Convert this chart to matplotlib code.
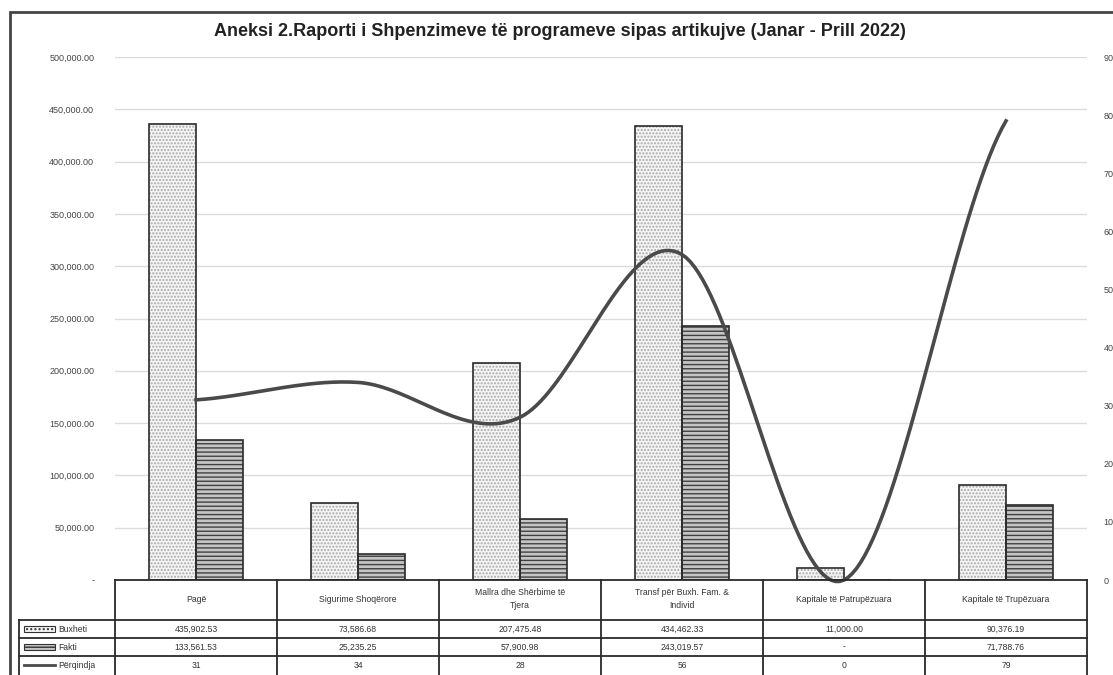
import matplotlib
matplotlib.use('Agg')

import matplotlib.pyplot as plt
import numpy as np
from matplotlib.patches import Rectangle
from matplotlib.lines import Line2D

# te dhenat e raportit
kategorite = ["Pagë", "Sigurime Shoqërore", "Mallra dhe Shërbime të\nTjera",
              "Transf për Buxh. Fam. &\nIndivid", "Kapitale të Patrupëzuara",
              "Kapitale të Trupëzuara"]
buxheti = [435902.53, 73586.68, 207475.48, 434462.33, 11000.00, 90376.19]
fakti = [133561.53, 25235.25, 57900.98, 243019.57, 0.0, 71788.76]
perqindja = [31, 34, 28, 56, 0, 79]

W, H = 1113, 675
fig = plt.figure(figsize=(W / 100, H / 100), dpi=100)
plt.rcParams['font.family'] = ['Liberation Sans', 'DejaVu Sans']

ax = fig.add_axes([115 / W, 95 / H, 972 / W, 523 / H])
n = len(kategorite)
x = np.arange(n)
w = 0.29

# shtyllat: buxheti (pika) dhe fakti (vija horizontale)
ax.bar(x - w / 2, buxheti, w, color='#f5f5f5', hatch='.....', edgecolor='#a8a8a8', lw=0, zorder=2)
ax.bar(x - w / 2, buxheti, w, fill=False, edgecolor='#2a2a2a', lw=1.2, zorder=3)
ax.bar(x + w / 2, fakti, w, color='#c4c4c4', hatch='----', edgecolor='#404040', lw=0, zorder=2)
ax.bar(x + w / 2, fakti, w, fill=False, edgecolor='#2a2a2a', lw=1.2, zorder=3)

ax.set_xlim(-0.5, n - 0.5)
ax.set_ylim(0, 500000)
ax.set_yticks(np.arange(0, 500001, 50000))
ax.set_yticklabels(['-'] + [f"{v:,.2f}" for v in range(50000, 500001, 50000)])
ax.tick_params(axis='y', length=0, pad=15, labelsize=6.5, labelcolor='#444')
ax.set_xticks([])
ax.grid(axis='y', color='#dcdcdc', lw=1, zorder=0)
for s in ax.spines.values():
    s.set_visible(False)

# linja e perqindjes (e lemuar si ne Excel)
ax2 = ax.twinx()
ax2.set_ylim(0, 90)
ax2.set_yticks(np.arange(0, 91, 10))
ax2.tick_params(axis='y', length=0, pad=12, labelsize=6.5, labelcolor='#444')
for s in ax2.spines.values():
    s.set_visible(False)

p = np.array(perqindja, dtype=float)
k = 0.2
xs, ys = [], []
for i in range(n - 1):
    p0 = p[i - 1] if i > 0 else p[i]
    p3 = p[i + 2] if i + 2 < n else p[i + 1]
    c1 = p[i] + (p[i + 1] - p0) * k
    c2 = p[i + 1] - (p3 - p[i]) * k
    t = np.linspace(0, 1, 40)
    xs.extend(i + t)
    ys.extend((1 - t) ** 3 * p[i] + 3 * (1 - t) ** 2 * t * c1 + 3 * (1 - t) * t ** 2 * c2 + t ** 3 * p[i + 1])
ax2.plot(xs, ys, color='#4a4a4a', lw=2.6, clip_on=False, zorder=4)

# tabela e te dhenave poshte grafikut
tax = fig.add_axes([115 / W, 0, 972 / W, 95 / H])
tax.set_xlim(-0.5, n - 0.5)
tax.set_ylim(0, 95)
tax.axis('off')
lc = '#2a2a2a'
left = -1.09
tax.plot([-0.5, n - 0.5], [95, 95], color=lc, lw=1.3, clip_on=False)
for yy in [55, 37, 19]:
    tax.plot([left, n - 0.5], [yy, yy], color=lc, lw=1.3, clip_on=False)
for xx in np.arange(-0.5, n, 1.0):
    tax.plot([xx, xx], [95, -2], color=lc, lw=1.3, clip_on=False)
tax.plot([left, left], [55, -2], color=lc, lw=1.3, clip_on=False)

fs = 6.2
for i, kat in enumerate(kategorite):
    tax.text(i, 76, kat, ha='center', va='center', fontsize=fs, color='#333', linespacing=1.6)
    tax.text(i, 46, f"{buxheti[i]:,.2f}", ha='center', va='center', fontsize=fs, color='#333')
    tax.text(i, 28, f"{fakti[i]:,.2f}" if fakti[i] else "-", ha='center', va='center', fontsize=fs, color='#333')
    tax.text(i, 10, f"{perqindja[i]}", ha='center', va='center', fontsize=fs, color='#333')

# celulat e legjendes
kx0, kx1 = left + 0.03, left + 0.22
tax.add_patch(Rectangle((kx0, 43), kx1 - kx0, 6, facecolor='#f5f5f5', hatch='....',
                        edgecolor='#333', lw=0.8, clip_on=False))
tax.add_patch(Rectangle((kx0, 25), kx1 - kx0, 6, facecolor='#c4c4c4', hatch='---',
                        edgecolor='#333', lw=0.8, clip_on=False))
tax.add_line(Line2D([kx0, kx1], [10, 10], color='#4a4a4a', lw=2, clip_on=False))
for yy, lab in [(46, "Buxheti"), (28, "Fakti"), (10, "Përqindja")]:
    tax.text(kx1 + 0.02, yy, lab, ha='left', va='center', fontsize=fs, color='#333')

fig.text(560 / W, 1 - 31 / H, "Aneksi 2.Raporti i Shpenzimeve të programeve sipas artikujve (Janar - Prill 2022)",
         ha='center', va='center', fontsize=13, fontweight='bold', color='#222')

# korniza e grafikut
fig.add_artist(Rectangle((10 / W, -0.05), 1.2, 1.05 - 12 / H, transform=fig.transFigure,
                         fill=False, edgecolor='#444', lw=2))

fig.savefig('out.png', dpi=100)
plt.close()
